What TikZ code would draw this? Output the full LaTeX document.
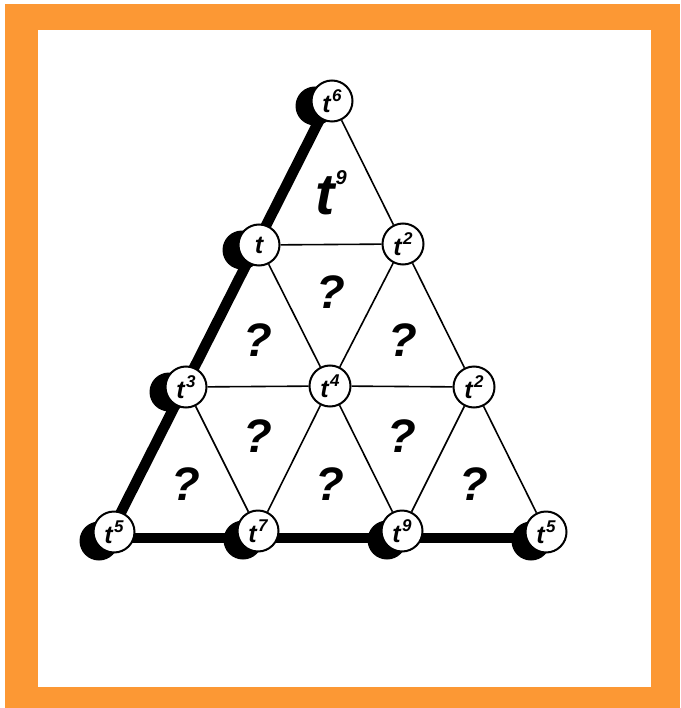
\documentclass[tikz,border=0pt]{standalone}
\usepackage{fontspec}
\setmainfont{Liberation Sans}
\usetikzlibrary{backgrounds}
\definecolor{framecol}{RGB}{252,152,52}
\newcommand\tpw[1]{t\kern1.5pt\raisebox{0.42em}{\fontsize{17}{17}\selectfont #1}}
\begin{document}
\begin{tikzpicture}[x=1pt,y=-1pt,
  dot/.style={circle,draw=black,line width=2pt,fill=white,minimum size=41pt,inner sep=0pt,
    font=\bfseries\itshape\fontsize{25}{25}\selectfont},
  thinline/.style={line width=1.6pt},
  thickline/.style={line width=10.5pt},
  qmark/.style={font=\bfseries\itshape\fontsize{47}{47}\selectfont},
  bigt/.style={font=\bfseries\itshape\fontsize{58}{58}\selectfont}]
\useasboundingbox (0,0) rectangle (680,708);
% nodes
\node[dot] (A)  at (332,101) {\tpw{6}};
\node[dot] (B1) at (259,245) {t};
\node[dot] (B2) at (403,244) {\tpw{2}};
\node[dot] (C1) at (186,387) {\tpw{3}};
\node[dot] (C2) at (330,386) {\tpw{4}};
\node[dot] (C3) at (474,387) {\tpw{2}};
\node[dot] (D1) at (114,532) {\tpw{5}};
\node[dot] (D2) at (258,531) {\tpw{7}};
\node[dot] (D3) at (402,531) {\tpw{9}};
\node[dot] (D4) at (546,532) {\tpw{5}};
% labels in triangles
\node[bigt] (T0) at (331,193) {t\kern1pt\raisebox{30pt}{\fontsize{20}{20}\selectfont 9}};
\node[qmark] (Q1) at (258,340) {?};
\node[qmark] (Q2) at (331,292) {?};
\node[qmark] (Q3) at (403,340) {?};
\node[qmark] (Q4) at (186,484) {?};
\node[qmark] (Q5) at (258,436) {?};
\node[qmark] (Q6) at (330,484) {?};
\node[qmark] (Q7) at (402,436) {?};
\node[qmark] (Q8) at (474,484) {?};
\begin{pgfonlayer}{background}
  \fill[white] (0,0) rectangle (680,708);
  \fill[framecol] (5,4) rectangle (680,708);
  \fill[white] (38,30) rectangle (651,687);
  % thin edges
  \draw[thinline] (A) -- (B2);
  \draw[thinline] (B1) -- (B2);
  \draw[thinline] (B1) -- (C2);
  \draw[thinline] (B2) -- (C2);
  \draw[thinline] (B2) -- (C3);
  \draw[thinline] (C1) -- (C2);
  \draw[thinline] (C2) -- (C3);
  \draw[thinline] (C1) -- (D2);
  \draw[thinline] (C2) -- (D2);
  \draw[thinline] (C2) -- (D3);
  \draw[thinline] (C3) -- (D3);
  \draw[thinline] (C3) -- (D4);
  % shadows
  \foreach \n in {A,B1,C1} {\fill ([shift={(-17,5)}]\n.center) circle (19.5);}
  \foreach \n in {D1,D2,D3,D4} {\fill ([shift={(-15,9)}]\n.center) circle (19.5);}
  % thick edges
  \draw[thickline] ([shift={(-4,2)}]A.center) -- ([shift={(-4,2)}]D1.center);
  \draw[thickline] ([shift={(0,6)}]D1.center) -- ([shift={(0,6)}]D4.center);
\end{pgfonlayer}
\end{tikzpicture}
\end{document}
